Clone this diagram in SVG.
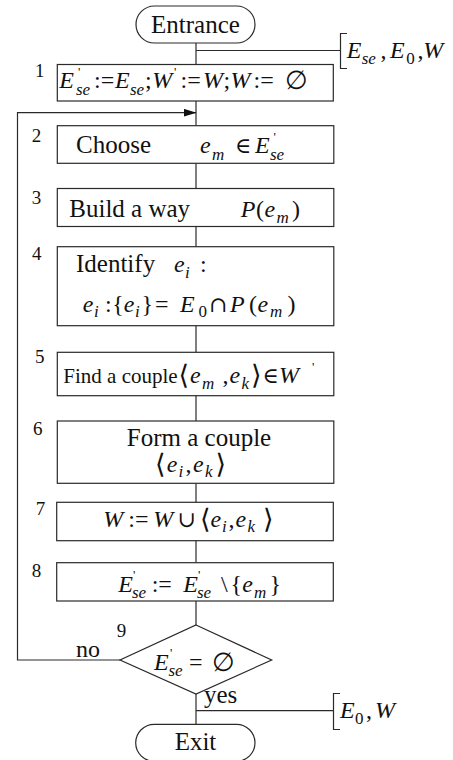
<svg xmlns="http://www.w3.org/2000/svg" width="453" height="760" viewBox="0 0 453 760">
<defs>
<style>
.shape{fill:#fff;stroke:#2a2a2a;stroke-width:1.2}
.ln{fill:none;stroke:#2a2a2a;stroke-width:1.2}
text{font-family:"Liberation Serif","Times New Roman","DejaVu Serif",serif;fill:#111}
.t{font-size:25px}
.num{font-size:19px}
.m{font-size:24px}
.i{font-style:italic}
.s{font-size:17px}
.p{font-size:13px}
.sym{font-family:"DejaVu Serif","Liberation Serif",serif;font-size:22px}
.emp{font-family:"DejaVu Serif","Liberation Serif",serif;font-size:26px}
.ang{font-family:"DejaVu Sans","Liberation Serif",serif;font-size:27px}
</style>
<marker id="arr" markerWidth="13" markerHeight="8" refX="12.5" refY="4" orient="auto" markerUnits="userSpaceOnUse">
<path d="M0,0 L13,4 L0,8 Z" fill="#111"/>
</marker>
</defs>
<rect width="453" height="760" fill="#fff"/>

<g id="connectors">
<line class="ln" x1="196" y1="43" x2="196" y2="64.5"/>
<line class="ln" x1="196" y1="50.5" x2="340" y2="50.5"/>
<path class="ln" d="M347,33.5 H340.5 V68.5 H347"/>
<line class="ln" x1="196" y1="101" x2="196" y2="125.5"/>
<path class="ln" d="M120,660 H17.5 V112.7 H196" marker-end="url(#arr)"/>
<line class="ln" x1="196" y1="163.5" x2="196" y2="188.5"/>
<line class="ln" x1="196" y1="226.5" x2="196" y2="246.5"/>
<line class="ln" x1="196" y1="325.5" x2="196" y2="352.5"/>
<line class="ln" x1="196" y1="395.5" x2="196" y2="421"/>
<line class="ln" x1="196" y1="483.5" x2="196" y2="502.5"/>
<line class="ln" x1="196" y1="540.5" x2="196" y2="562.5"/>
<line class="ln" x1="196" y1="601" x2="196" y2="625"/>
<line class="ln" x1="196" y1="694" x2="196" y2="724"/>
<line class="ln" x1="196" y1="710.7" x2="333.5" y2="710.7"/>
<path class="ln" d="M340,693.5 H333.5 V729.5 H340"/>
</g>

<g id="entrance">
<rect class="shape" x="136" y="6" width="119" height="37" rx="18.5"/>
<text class="t" x="195.5" y="32.7" text-anchor="middle">Entrance</text>
</g>

<g id="input">
<text class="m"><tspan class="i" x="346.7" y="58.3">E</tspan><tspan class="i s" x="361.7" y="64.3">se</tspan><tspan x="380.5" y="58.3">,</tspan><tspan class="i" x="390" y="58.3">E</tspan><tspan class="s" x="406.2" y="64.3">0</tspan><tspan x="417.5" y="58.3">,</tspan><tspan class="i" x="423.3" y="58.3">W</tspan></text>
</g>

<g id="n1">
<text class="num" x="35" y="77.3">1</text>
<rect class="shape" x="57.3" y="64.5" width="276" height="36.5"/>
<text class="m"><tspan class="i" x="59.3" y="88">E</tspan><tspan class="p" x="78" y="76">'</tspan><tspan class="i s" x="76" y="95">se</tspan><tspan x="94" y="88">:=</tspan><tspan class="i" x="115" y="88">E</tspan><tspan class="i s" x="130" y="95">se</tspan><tspan x="145" y="88">;</tspan><tspan class="i" x="152.2" y="88">W</tspan><tspan class="p" x="174" y="76">'</tspan><tspan x="180.5" y="88">:=</tspan><tspan class="i" x="203" y="88">W</tspan><tspan x="223.5" y="88">;</tspan><tspan class="i" x="230.5" y="88">W</tspan><tspan x="253.5" y="88">:=</tspan><tspan class="emp" x="285" y="89">∅</tspan></text>
</g>

<g id="n2">
<text class="num" x="31.7" y="141.7">2</text>
<rect class="shape" x="57.3" y="125.7" width="276.5" height="37.6"/>
<text class="t" x="76" y="153.3">Choose</text>
<text class="m"><tspan class="i" x="200" y="153.3">e</tspan><tspan class="i s" x="212" y="159.5">m</tspan><tspan class="sym" x="235" y="153.3">∈</tspan><tspan class="i" x="255" y="153.3">E</tspan><tspan class="p" x="273.5" y="141">'</tspan><tspan class="i s" x="270" y="159.5">se</tspan></text>
</g>

<g id="n3">
<text class="num" x="31.7" y="204">3</text>
<rect class="shape" x="57.3" y="188.5" width="276.5" height="38"/>
<text class="t" x="69.3" y="217">Build a way</text>
<text class="m"><tspan class="i" x="240.7" y="217">P</tspan><tspan x="256" y="217">(</tspan><tspan class="i" x="264.5" y="217">e</tspan><tspan class="i s" x="276.5" y="223">m</tspan><tspan x="292" y="217">)</tspan></text>
</g>

<g id="n4">
<text class="num" x="32" y="260">4</text>
<rect class="shape" x="57.3" y="246.7" width="276.5" height="79"/>
<text class="t" x="76" y="271.7">Identify</text>
<text class="m"><tspan class="i" x="174" y="271.7">e</tspan><tspan class="i s" x="185" y="277.5">i</tspan><tspan x="200" y="271.7">:</tspan></text>
<text class="m"><tspan class="i" x="82.7" y="311.7">e</tspan><tspan class="i s" x="94" y="317">i</tspan><tspan x="105" y="311.7">:</tspan><tspan x="112.3" y="311.7">{</tspan><tspan class="i" x="123.8" y="311.7">e</tspan><tspan class="i s" x="135" y="317">i</tspan><tspan x="141.5" y="311.7">}</tspan><tspan x="155" y="311.7">=</tspan><tspan class="i" x="180" y="311.7">E</tspan><tspan class="s" x="198.5" y="317">0</tspan><tspan class="sym" x="209" y="311.7">∩</tspan><tspan class="i" x="230" y="311.7">P</tspan><tspan x="249" y="311.7">(</tspan><tspan class="i" x="257.5" y="311.7">e</tspan><tspan class="i s" x="270" y="317">m</tspan><tspan x="287.5" y="311.7">)</tspan></text>
</g>

<g id="n5">
<text class="num" x="35" y="363.3">5</text>
<rect class="shape" x="57.3" y="352.3" width="276.5" height="43.4"/>
<text x="63.3" y="382.7" style="font-size:21px">Find a couple</text>
<text class="m"><tspan class="ang" x="178.5" y="384">⟨</tspan><tspan class="i" x="190" y="382.7">e</tspan><tspan class="i s" x="202" y="388.5">m</tspan><tspan x="222.5" y="382.7">,</tspan><tspan class="i" x="229.5" y="382.7">e</tspan><tspan class="i s" x="241.5" y="388.5">k</tspan><tspan class="ang" x="251" y="384">⟩</tspan><tspan class="sym" x="262.5" y="382.7">∈</tspan><tspan class="i" x="279" y="382.7">W</tspan><tspan class="p" x="312" y="371">'</tspan></text>
</g>

<g id="n6">
<text class="num" x="33" y="435">6</text>
<rect class="shape" x="57.3" y="421" width="276.5" height="62.3"/>
<text class="t" x="199" y="446" text-anchor="middle">Form a couple</text>
<text class="m"><tspan class="ang" x="155" y="473">⟨</tspan><tspan class="i" x="166.7" y="471.7">e</tspan><tspan class="i s" x="178.5" y="477">i</tspan><tspan x="185.5" y="471.7">,</tspan><tspan class="i" x="193" y="471.7">e</tspan><tspan class="i s" x="205" y="477">k</tspan><tspan class="ang" x="215.5" y="473">⟩</tspan></text>
</g>

<g id="n7">
<text class="num" x="35.7" y="515">7</text>
<rect class="shape" x="56.7" y="502.3" width="276.6" height="38.4"/>
<text class="m"><tspan class="i" x="103.3" y="526.7">W</tspan><tspan x="128.3" y="526.7">:=</tspan><tspan class="i" x="153.3" y="526.7">W</tspan><tspan class="sym" x="177.5" y="526.7">∪</tspan><tspan class="ang" x="200" y="528">⟨</tspan><tspan class="i" x="210.5" y="526.7">e</tspan><tspan class="i s" x="222" y="532">i</tspan><tspan x="228.5" y="526.7">,</tspan><tspan class="i" x="235.5" y="526.7">e</tspan><tspan class="i s" x="247.5" y="532">k</tspan><tspan class="ang" x="263" y="528">⟩</tspan></text>
</g>

<g id="n8">
<text class="num" x="31.7" y="576.7">8</text>
<rect class="shape" x="56.7" y="562.7" width="276.6" height="38.3"/>
<text class="m"><tspan class="i" x="118.3" y="591.7">E</tspan><tspan class="p" x="133" y="579">'</tspan><tspan class="i s" x="132" y="598">se</tspan><tspan x="151.7" y="591.7">:=</tspan><tspan class="i" x="183.3" y="591.7">E</tspan><tspan class="p" x="198" y="579">'</tspan><tspan class="i s" x="197" y="598">se</tspan><tspan x="221" y="591.7">\</tspan><tspan x="230.5" y="591.7">{</tspan><tspan class="i" x="242.2" y="591.7">e</tspan><tspan class="i s" x="254" y="598">m</tspan><tspan x="269.5" y="591.7">}</tspan></text>
</g>

<g id="n9">
<text class="num" x="116.7" y="636.7">9</text>
<polygon class="shape" points="196,625 271.7,660 196,694 120,660"/>
<text class="m"><tspan class="i" x="154" y="670">E</tspan><tspan class="p" x="170" y="657">'</tspan><tspan class="i s" x="168.5" y="675.5">se</tspan><tspan x="189" y="670">=</tspan><tspan class="emp" x="212" y="671">∅</tspan></text>
<text class="t" x="76" y="657.3" style="font-size:24px">no</text>
<text class="t" x="204" y="703.3">yes</text>
</g>

<g id="output">
<text class="m"><tspan class="i" x="340" y="718.3">E</tspan><tspan class="s" x="355" y="723.5">0</tspan><tspan x="366" y="718.3">,</tspan><tspan class="i" x="375" y="718.3">W</tspan></text>
</g>

<g id="exit">
<rect class="shape" x="135.7" y="724.3" width="119.3" height="37" rx="18.5"/>
<text class="t" x="195.5" y="750" text-anchor="middle">Exit</text>
</g>
</svg>
